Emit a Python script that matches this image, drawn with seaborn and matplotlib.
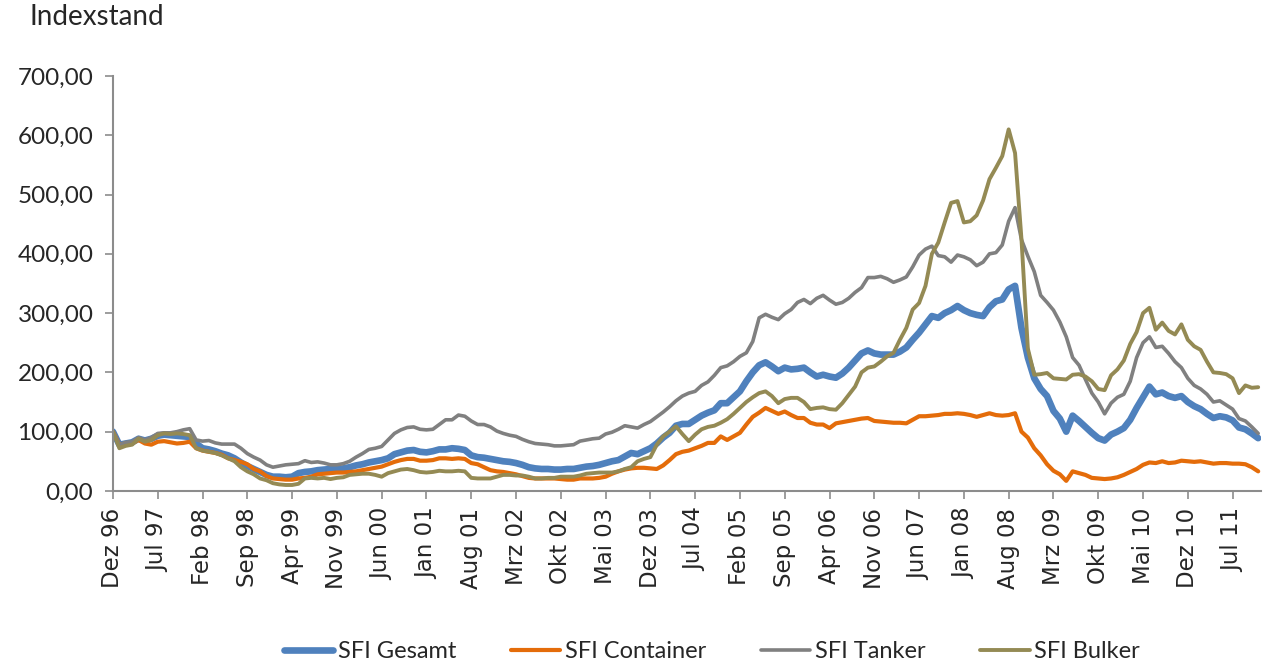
import numpy as np
import pandas as pd
import matplotlib
matplotlib.use("Agg")
import matplotlib.pyplot as plt
import seaborn as sns
from matplotlib.ticker import FuncFormatter, FixedLocator

# monthly index values, Dez 96 .. Nov 11 (one row per year)
gesamt = [
    100,
    78, 80, 82, 88, 85, 88, 93, 95, 94, 93, 92, 91,
    80, 72, 70, 67, 63, 60, 55, 48, 42, 37, 32, 27,
    24, 24, 23, 24, 30, 32, 33, 35, 36, 37, 37, 38,
    40, 43, 45, 48, 50, 52, 55, 62, 65, 68, 69, 66,
    65, 67, 70, 70, 72, 71, 69, 60, 57, 56, 54, 52,
    50, 49, 47, 44, 40, 38, 37, 37, 36, 36, 37, 37,
    39, 41, 42, 44, 47, 50, 52, 58, 64, 62, 67, 72,
    80, 90, 98, 110, 113, 113, 120, 127, 132, 136, 148, 148,
    158, 168, 185, 200, 212, 217, 210, 202, 208, 205, 206, 208,
    200, 193, 196, 193, 191, 198, 208, 220, 232, 237, 232, 230,
    230, 230, 235, 242, 255, 267, 281, 295, 292, 300, 305, 312,
    305, 300, 297, 295, 310, 320, 323, 340, 346, 275, 225, 190,
    172, 160, 135, 122, 100, 127, 118, 108, 98, 89, 85, 95,
    100, 106, 120, 140, 158, 176, 163, 166, 160, 157, 160, 150,
    143, 138, 130, 123, 126, 124, 119, 107, 104, 97, 89,
]
container = [
    100,
    78, 80, 80, 86, 80, 78, 83, 84, 82, 80, 81, 83,
    72, 68, 66, 64, 61, 55, 52, 49, 45, 37, 33, 25,
    21, 20, 19, 19, 21, 22, 24, 28, 29, 30, 31, 31,
    32, 33, 35, 37, 39, 41, 45, 49, 52, 54, 54, 51,
    51, 52, 55, 55, 54, 55, 54, 47, 45, 40, 35, 33,
    32, 30, 28, 25, 22, 21, 21, 21, 21, 20, 19, 19,
    21, 21, 21, 22, 24, 29, 33, 36, 38, 39, 39, 38,
    37, 43, 52, 62, 66, 68, 72, 76, 81, 81, 92, 86,
    92, 98, 112, 125, 132, 140, 135, 130, 134, 128, 123, 123,
    115, 112, 112, 106, 114, 116, 118, 120, 122, 123, 118, 117,
    116, 115, 115, 114, 120, 126, 126, 127, 128, 130, 130, 131,
    130, 128, 125, 128, 131, 128, 127, 128, 131, 100, 90, 72,
    60, 45, 34, 28, 17, 33, 30, 27, 22, 21, 20, 21,
    23, 27, 32, 37, 44, 48, 47, 50, 47, 48, 51, 50,
    49, 50, 48, 46, 47, 47, 46, 46, 45, 40, 33,
]
tanker = [
    100,
    78, 82, 83, 90, 86, 90, 97, 98, 98, 100, 103, 105,
    86, 84, 85, 81, 79, 79, 79, 72, 63, 57, 52, 44,
    40, 42, 44, 45, 46, 51, 48, 49, 47, 44, 44, 46,
    50, 57, 63, 70, 72, 75, 86, 97, 103, 107, 108, 104,
    103, 104, 112, 120, 120, 128, 126, 118, 112, 112, 108, 101,
    97, 94, 92, 87, 83, 80, 79, 78, 76, 76, 77, 78,
    84, 86, 88, 89, 96, 99, 104, 110, 108, 106, 112, 117,
    125, 133, 142, 152, 160, 165, 168, 178, 184, 195, 208, 211,
    218, 227, 233, 252, 292, 298, 293, 289, 299, 306, 318, 323,
    316, 325, 330, 322, 315, 318, 325, 335, 343, 360, 360, 362,
    358, 352, 356, 361, 378, 398, 408, 413, 397, 395, 386, 398,
    395, 390, 380, 386, 400, 402, 415, 455, 478, 424, 396, 370,
    330, 318, 305, 285, 260, 225, 212, 188, 165, 150, 130, 148,
    158, 163, 185, 225, 250, 260, 242, 244, 232, 218, 208, 190,
    178, 172, 163, 150, 152, 145, 138, 122, 118, 108, 97,
]
bulker = [
    100,
    72, 76, 78, 88, 83, 86, 94, 97, 96, 97, 96, 94,
    72, 68, 66, 64, 60, 55, 50, 40, 33, 28, 21, 18,
    13, 11, 10, 10, 12, 21, 22, 21, 22, 20, 22, 23,
    27, 28, 29, 29, 27, 24, 30, 33, 36, 37, 35, 32,
    31, 32, 34, 33, 33, 34, 33, 22, 21, 21, 21, 24,
    27, 27, 26, 26, 24, 21, 21, 22, 22, 24, 24, 24,
    26, 29, 30, 31, 31, 31, 33, 37, 40, 50, 54, 57,
    78, 92, 100, 109, 96, 84, 95, 104, 108, 110, 115, 121,
    130, 140, 150, 158, 165, 168, 160, 148, 155, 157, 157, 150,
    138, 140, 141, 138, 137, 148, 162, 176, 200, 208, 210, 218,
    227, 233, 255, 275, 306, 317, 346, 400, 419, 453, 486, 489,
    453, 455, 465, 490, 526, 545, 565, 610, 570, 425, 240, 196,
    197, 199, 190, 189, 188, 196, 197, 193, 185, 172, 170, 195,
    205, 220, 248, 268, 300, 309, 272, 284, 270, 264, 281, 255,
    244, 238, 218, 200, 199, 197, 190, 165, 178, 174, 175,
]

tick_labels = [
    "Dez 96", "Jul 97", "Feb 98", "Sep 98", "Apr 99", "Nov 99", "Jun 00",
    "Jan 01", "Aug 01", "Mrz 02", "Okt 02", "Mai 03", "Dez 03", "Jul 04",
    "Feb 05", "Sep 05", "Apr 06", "Nov 06", "Jun 07", "Jan 08", "Aug 08",
    "Mrz 09", "Okt 09", "Mai 10", "Dez 10", "Jul 11",
]

series = [
    ("SFI Gesamt", gesamt, "#4F81BD", 4.8),
    ("SFI Container", container, "#E46C0A", 3.0),
    ("SFI Tanker", tanker, "#808080", 2.6),
    ("SFI Bulker", bulker, "#948A54", 2.8),
]

sns.set_style("white")
plt.rcParams["font.family"] = ["Lato", "DejaVu Sans"]

fig = plt.figure(figsize=(12.69, 6.67), dpi=100)
ax = fig.add_axes([0.089, 0.264, 0.905, 0.622])

for name, vals, color, lw in series:
    months = np.arange(len(vals))
    sns.lineplot(x=months, y=vals, color=color, linewidth=lw, label=name,
                 ax=ax, solid_capstyle="round", solid_joinstyle="round")

ax.set_xlim(0, 179.5)
ax.set_ylim(0, 700)
ax.set_yticks(np.arange(0, 701, 100))
ax.yaxis.set_major_formatter(FuncFormatter(lambda v, p: f"{v:.2f}".replace(".", ",")))
ax.xaxis.set_major_locator(FixedLocator(np.arange(0, len(tick_labels) * 7, 7)))
ax.set_xticklabels(tick_labels, rotation=90, family="DejaVu Sans", fontsize=16.5)
ax.tick_params(axis="y", labelsize=17.5, length=6, width=1.2, color="#8C8C8C",
               direction="out", left=True, pad=8)
ax.tick_params(axis="x", length=6, width=1.2, color="#8C8C8C",
               direction="out", bottom=True, pad=6)

for side in ["top", "right"]:
    ax.spines[side].set_visible(False)
for side in ["left", "bottom"]:
    ax.spines[side].set_color("#8C8C8C")
    ax.spines[side].set_linewidth(1.5)

ax.set_xlabel("")
ax.set_ylabel("")
ax.get_legend().remove()

fig.text(0.023, 0.974, "Indexstand", fontsize=20, va="center", ha="left")

handles, labels = ax.get_legend_handles_labels()
fig.legend(handles, labels, loc="center", bbox_to_anchor=(0.561, 0.023),
           ncol=4, frameon=False, fontsize=17, handlelength=2.1,
           handletextpad=0.2, columnspacing=2.3)

fig.savefig("out.png", dpi=100)
